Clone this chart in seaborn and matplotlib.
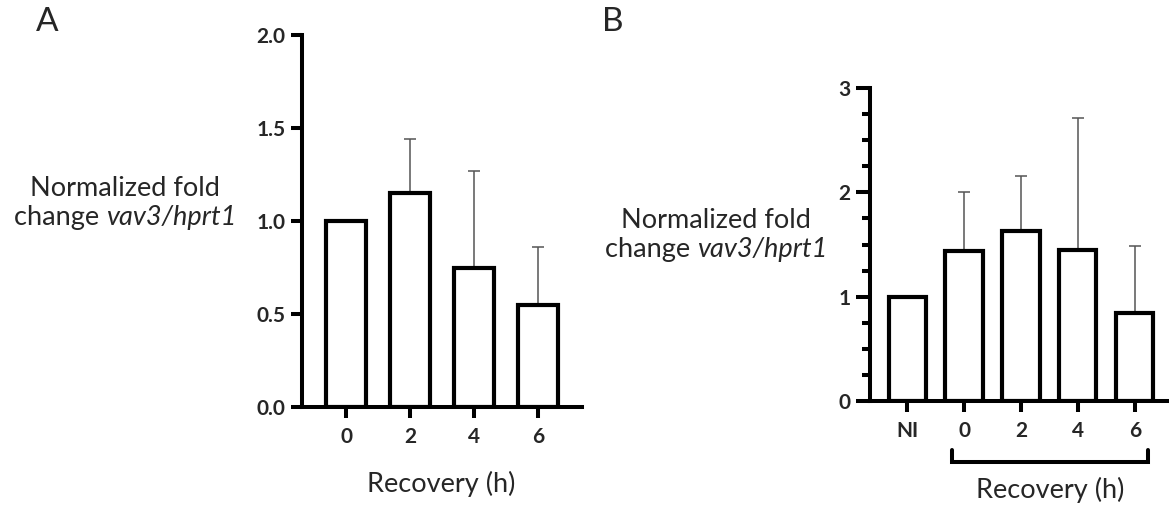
import matplotlib
matplotlib.use("Agg")
import matplotlib.pyplot as plt
import matplotlib.transforms as mtransforms
from matplotlib.ticker import MultipleLocator, FormatStrFormatter
import seaborn as sns
import pandas as pd

# ---- data ----
a_labels = ["0", "2", "4", "6"]
a_means = [1.0, 1.15, 0.75, 0.55]
a_err = [0.0, 0.29, 0.52, 0.31]

b_labels = ["NI", "0", "2", "4", "6"]
b_means = [1.0, 1.44, 1.63, 1.45, 0.84]
b_err = [0.0, 0.56, 0.53, 1.26, 0.65]

ylabel_line1 = "Normalized fold"
ylabel_line2_plain = "change "
ylabel_line2_italic = "vav3/hprt1"
xlabel = "Recovery (h)"

sns.set_theme(style="ticks")
plt.rcParams["font.family"] = ["Lato", "DejaVu Sans"]

W, H = 1169, 508
fig = plt.figure(figsize=(W / 100, H / 100), dpi=100)
LABEL_FS = 19.5
TICK_FS = 15


def px_axes(l, r, top, bottom):
    return fig.add_axes([l / W, 1 - bottom / H, (r - l) / W, (bottom - top) / H])


def style(ax):
    for s in ["top", "right"]:
        ax.spines[s].set_visible(False)
    for s in ["left", "bottom"]:
        ax.spines[s].set_linewidth(2.9)
        ax.spines[s].set_color("black")
    ax.tick_params(axis="both", which="major", length=8, width=2.9, color="black",
                   labelsize=TICK_FS, pad=4)
    ax.tick_params(axis="x", which="major", pad=6.5)
    for lab in ax.get_xticklabels() + ax.get_yticklabels():
        lab.set_fontweight("bold")
    ax.set_xlabel("")
    ax.set_ylabel("")
    ax.set_facecolor("white")


def draw(ax, labels, means, errs, width):
    df = pd.DataFrame({"cat": labels, "val": means})
    sns.barplot(data=df, x="cat", y="val", ax=ax, color="white", edgecolor="black",
                linewidth=3.0, width=width, errorbar=None, saturation=1)
    xs = list(range(len(labels)))
    ax.errorbar(xs, means, yerr=[[0] * len(errs), errs], fmt="none",
                ecolor="#555555", elinewidth=1.1, capsize=4.5, capthick=1.1, zorder=1)
    for p in ax.patches:
        p.set_zorder(2)


# ---- Panel A ----
axA = px_axes(302, 582, 35, 407)
draw(axA, a_labels, a_means, a_err, 0.63)
axA.set_ylim(0, 2.0)
axA.set_xlim(-0.69, 3.69)
axA.yaxis.set_major_locator(MultipleLocator(0.5))
axA.yaxis.set_major_formatter(FormatStrFormatter("%.1f"))
style(axA)

# ---- Panel B ----
axB = px_axes(870, 1168, 88.3, 400.7)
draw(axB, b_labels, b_means, b_err, 0.65)
axB.set_ylim(0, 3)
axB.set_xlim(-0.65, 4.58)
axB.yaxis.set_major_locator(MultipleLocator(1))
axB.yaxis.set_minor_locator(MultipleLocator(0.25))
style(axB)
axB.tick_params(axis="y", which="major", length=10)
axB.tick_params(axis="y", which="minor", length=5.5, width=2.9, color="black")

# bracket under recovery bars
trans = mtransforms.blended_transform_factory(axB.transData, axB.transAxes)
bx0, bx1 = 0.79, 4.23
axB.plot([bx0, bx0, bx1, bx1], [-0.158, -0.196, -0.196, -0.158], transform=trans,
         color="black", lw=2.9, clip_on=False, solid_joinstyle="miter")

# x labels
fig.text(441 / W, 1 - 484 / H, xlabel, ha="center", va="center", fontsize=LABEL_FS)
fig.text(1050 / W, 1 - 490 / H, xlabel, ha="center", va="center", fontsize=LABEL_FS)

# y labels (two lines, second partly italic)
renderer = fig.canvas.get_renderer()
for cx, y1, y2 in [(125, 188, 218), (716, 220, 250)]:
    fig.text(cx / W, 1 - y1 / H, ylabel_line1, ha="center", va="center", fontsize=LABEL_FS)
    t1 = fig.text(0, 1 - y2 / H, ylabel_line2_plain, ha="left", va="center", fontsize=LABEL_FS)
    t2 = fig.text(0, 1 - y2 / H, ylabel_line2_italic, ha="left", va="center",
                  fontsize=LABEL_FS, style="italic")
    w1 = t1.get_window_extent(renderer).width
    w2 = t2.get_window_extent(renderer).width
    x0 = cx - (w1 + w2) / 2
    t1.set_x(x0 / W)
    t2.set_x((x0 + w1) / W)

# panel letters
fig.text(47 / W, 1 - 22 / H, "A", ha="center", va="center", fontsize=24)
fig.text(613 / W, 1 - 22 / H, "B", ha="center", va="center", fontsize=24)

fig.savefig("out.png", dpi=100, facecolor="white")
